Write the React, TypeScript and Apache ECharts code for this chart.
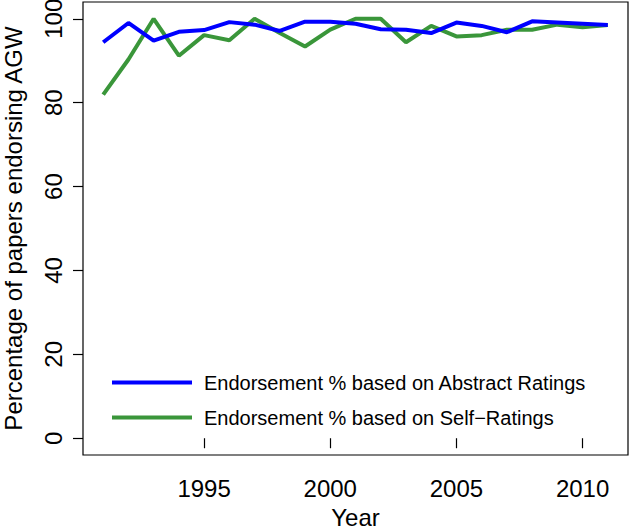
import React, { useEffect, useRef } from "react";
import * as echarts from "echarts";

const years = [1991, 1992, 1993, 1994, 1995, 1996, 1997, 1998, 1999, 2000, 2001, 2002, 2003, 2004, 2005, 2006, 2007, 2008, 2009, 2010, 2011];
const abstractRatings = [94.4, 99.0, 94.8, 96.9, 97.3, 99.2, 98.6, 97.1, 99.3, 99.3, 98.8, 97.5, 97.4, 96.6, 99.1, 98.3, 96.8, 99.4, 99.1, 98.8, 98.5];
const selfRatings = [81.9, 90.3, 100, 91.2, 96.1, 94.9, 100, 96.6, 93.4, 97.4, 100, 100, 94.4, 98.3, 95.8, 96.1, 97.4, 97.4, 98.6, 98.0, 98.5];
const xTicks = [1995, 2000, 2005, 2010];
const yTicks = [0, 20, 40, 60, 80, 100];
const seriesNames = ["Endorsement % based on Abstract Ratings", "Endorsement % based on Self\u2212Ratings"];

const FONT = "'Liberation Sans', Arial, Helvetica, sans-serif";

export default function App() {
  const ref = useRef<HTMLDivElement>(null);
  useEffect(() => {
    document.body.style.margin = "0";
    const chart = echarts.init(ref.current!, null, { renderer: "svg" });
    chart.setOption({
      animation: false,
      backgroundColor: "#ffffff",
      textStyle: { fontFamily: FONT },
      grid: {
        left: 83, right: 3, top: 2, bottom: 75,
        outerBoundsMode: "none", containLabel: false,
        show: true, borderColor: "#000", borderWidth: 1.2, backgroundColor: "transparent",
      },
      legend: {
        orient: "vertical",
        left: 107,
        top: 360,
        icon: "rect",
        itemWidth: 80,
        itemHeight: 4,
        itemGap: 0,
        data: seriesNames,
        textStyle: { fontSize: 20, color: "#000", fontFamily: FONT, lineHeight: 35, padding: [0, 0, 0, 7] },
      },
      xAxis: {
        type: "value",
        min: 1990.2,
        max: 2011.8,
        name: "Year",
        nameLocation: "middle",
        nameGap: 50,
        nameTextStyle: { fontSize: 24, color: "#000", fontFamily: FONT },
        splitLine: { show: false },
        axisLine: { show: false },
        axisTick: { show: true, customValues: xTicks, length: 10, lineStyle: { color: "#000", width: 1.2 } },
        axisLabel: { customValues: xTicks, fontSize: 24, color: "#000", fontFamily: FONT, margin: 21, formatter: (v: number) => String(v) },
      },
      yAxis: {
        type: "value",
        min: -4,
        max: 104,
        name: "Percentage of papers endorsing AGW",
        nameLocation: "middle",
        nameGap: 58,
        nameTextStyle: { fontSize: 24, color: "#000", fontFamily: FONT },
        splitLine: { show: false },
        axisLine: { show: false },
        axisTick: { show: true, customValues: yTicks, length: 10, lineStyle: { color: "#000", width: 1.2 } },
        axisLabel: { customValues: yTicks, fontSize: 24, color: "#000", fontFamily: FONT, margin: 18, rotate: 90, formatter: (v: number) => String(v) },
      },
      series: [
        {
          name: seriesNames[1],
          type: "line",
          data: years.map((y, i) => [y, selfRatings[i]]),
          symbol: "none",
          lineStyle: { color: "#3a963a", width: 4 },
          itemStyle: { color: "#3a963a" },
          z: 2,
        },
        {
          name: seriesNames[0],
          type: "line",
          data: years.map((y, i) => [y, abstractRatings[i]]),
          symbol: "none",
          lineStyle: { color: "#0000ff", width: 4 },
          itemStyle: { color: "#0000ff" },
          z: 3,
        },
      ],
    });
    return () => chart.dispose();
  }, []);
  return <div ref={ref} style={{ width: 631, height: 530 }} />;
}
